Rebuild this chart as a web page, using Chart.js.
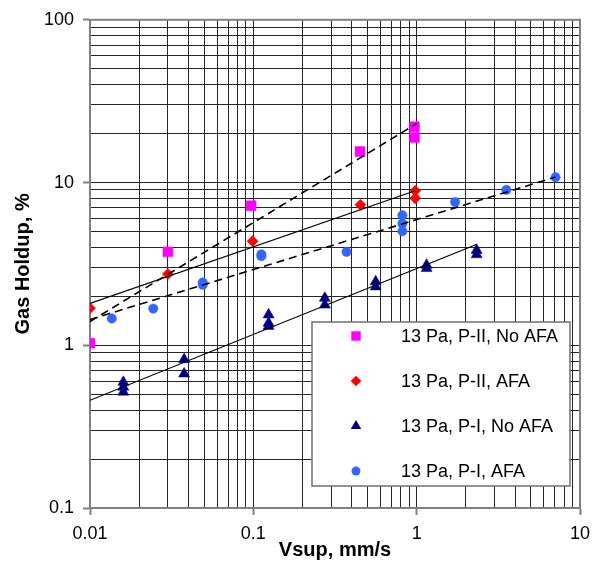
<!DOCTYPE html>
<html><head><meta charset="utf-8">
<script src="https://cdn.jsdelivr.net/npm/chart.js@4/dist/chart.umd.min.js"></script>
<style>html,body{margin:0;padding:0;background:#fff}#wrap{width:603px;height:578px}</style>
</head><body><div id="wrap"><canvas id="c" width="603" height="578"></canvas></div>
<script>
// ---- data ----
const xTickLabels = ['0.01', '0.1', '1', '10'];
const yTickLabels = ['0.1', '1', '10', '100'];
const xTitle = 'Vsup, mm/s';
const yTitle = 'Gas Holdup, %';
const seriesLabels = ['13 Pa, P-II, No AFA', '13 Pa, P-II, AFA', '13 Pa, P-I, No AFA', '13 Pa, P-I, AFA'];

const p2NoAfaX = [0.01, 0.03, 0.097, 0.45, 0.97, 0.97];
const p2NoAfaY = [1.03, 3.75, 7.2, 15.5, 22.0, 18.9];

const p2AfaX = [0.01, 0.030, 0.099, 0.453, 0.98, 0.98];
const p2AfaY = [1.69, 2.74, 4.36, 7.3, 8.9, 8.0];

const p1NoAfaX = [0.016, 0.016, 0.016, 0.0377, 0.0377, 0.124, 0.124, 0.124, 0.274, 0.274, 0.561, 0.561, 1.15, 1.15, 2.33, 2.33];
const p1NoAfaY = [0.594, 0.554, 0.516, 0.818, 0.668, 1.54, 1.37, 1.31, 1.95, 1.77, 2.46, 2.29, 3.11, 2.97, 3.84, 3.61];

const p1AfaX = [0.0136, 0.0244, 0.049, 0.049, 0.112, 0.112, 0.372, 0.818, 0.818, 0.818, 1.72, 3.54, 7.08];
const p1AfaY = [1.46, 1.68, 2.43, 2.35, 3.53, 3.62, 3.75, 6.29, 5.59, 5.02, 7.58, 9.01, 10.77];

// trend lines (end points)
const trendP2NoAfaX = [0.01, 1.0];
const trendP2NoAfaY = [1.40, 23.0];
const trendP2AfaX = [0.01, 0.98];
const trendP2AfaY = [1.81, 8.9];
const trendP1NoAfaX = [0.01, 2.32];
const trendP1NoAfaY = [0.459, 4.16];
const trendP1AfaX = [0.01, 7.08];
const trendP1AfaY = [1.44, 10.8];

// ---- helpers ----
const FONT = "'Liberation Sans', Arial, sans-serif";
const pts = (xs, ys) => xs.map((x, i) => ({x: x, y: ys[i]}));
function gridValues(labels) {
  const m = labels.map(Number), out = [];
  for (let d = 0; d < m.length - 1; d++) for (let k = 1; k < 10; k++) out.push(m[d] * k);
  out.push(m[m.length - 1]);
  return out;
}
function majorLabel(v, labels) {
  for (const l of labels) if (Math.abs(v / Number(l) - 1) < 1e-6) return l;
  return '';
}
const xGrid = gridValues(xTickLabels);
const yGrid = gridValues(yTickLabels);

const markerStyles = [
  {style: 'rect', radius: 7, color: '#FF00FF'},
  {style: 'rectRot', radius: 5.6, color: '#FF0000'},
  {style: 'triangle', radius: 6.4, color: '#000080'},
  {style: 'circle', radius: 4.7, color: '#3366FF'}
];
const markerData = [pts(p2NoAfaX, p2NoAfaY), pts(p2AfaX, p2AfaY), pts(p1NoAfaX, p1NoAfaY), pts(p1AfaX, p1AfaY)];

function trend(xs, ys, dash) {
  return {label: '', data: pts(xs, ys), showLine: true, pointRadius: 0, borderColor: '#000',
    borderWidth: dash ? 1.6 : 1.2, borderDash: dash ? [8, 5] : [], fill: false};
}
const datasets = [
  trend(trendP2NoAfaX, trendP2NoAfaY, true),
  trend(trendP2AfaX, trendP2AfaY, false),
  trend(trendP1NoAfaX, trendP1NoAfaY, false),
  trend(trendP1AfaX, trendP1AfaY, true)
];
markerStyles.forEach((m, i) => datasets.push({
  label: seriesLabels[i], data: markerData[i], showLine: false,
  pointStyle: m.style, pointRadius: m.radius, pointBackgroundColor: m.color,
  pointBorderColor: m.color, pointBorderWidth: 0.5
}));

function drawMarker(ctx, style, r, x, y, color) {
  ctx.save();
  ctx.fillStyle = color;
  ctx.beginPath();
  if (style === 'rect') { const s = r * Math.SQRT1_2; ctx.rect(x - s, y - s, 2 * s, 2 * s); }
  else if (style === 'rectRot') { ctx.moveTo(x, y - r); ctx.lineTo(x + r, y); ctx.lineTo(x, y + r); ctx.lineTo(x - r, y); }
  else if (style === 'triangle') { const a = Math.PI * 2 / 3; ctx.moveTo(x, y - r); ctx.lineTo(x + Math.sin(a) * r, y - Math.cos(a) * r); ctx.lineTo(x + Math.sin(2 * a) * r, y - Math.cos(2 * a) * r); }
  else { ctx.arc(x, y, r, 0, Math.PI * 2); }
  ctx.closePath();
  ctx.fill();
  ctx.restore();
}

const frame = {
  id: 'frame',
  beforeDatasetsDraw(chart) {
    const {ctx, chartArea: a} = chart;
    ctx.save();
    ctx.strokeStyle = '#808080';
    ctx.lineWidth = 2;
    ctx.strokeRect(a.left, a.top, a.right - a.left, a.bottom - a.top);
    ctx.restore();
  }
};

const boxLegend = {
  id: 'boxLegend',
  afterDraw(chart) {
    const {ctx, chartArea: a} = chart;
    const L = a.right - 268, T = a.bottom - 186, W = 258, H = 164;
    ctx.save();
    ctx.fillStyle = '#fff';
    ctx.fillRect(L, T, W, H);
    ctx.strokeStyle = '#707070';
    ctx.lineWidth = 1.5;
    ctx.strokeRect(L, T, W, H);
    ctx.font = '18px ' + FONT;
    ctx.textBaseline = 'middle';
    ctx.textAlign = 'left';
    markerStyles.forEach((m, i) => {
      const y = T + 14 + i * 45;
      drawMarker(ctx, m.style, m.radius * 0.95, L + 44, y, m.color);
      ctx.fillStyle = '#000';
      ctx.fillText(seriesLabels[i], L + 89, y + 1);
    });
    ctx.restore();
  }
};

const gridColor = '#262626';
function axis(opts) {
  return {
    type: 'logarithmic', min: opts.min, max: opts.max, position: opts.position,
    afterBuildTicks: s => { s.ticks = opts.grid.map(v => ({value: v})); },
    afterFit: opts.fit,
    ticks: {autoSkip: false, maxRotation: 0, minRotation: 0, padding: opts.pad, color: '#000',
      font: {family: FONT, size: 18},
      callback: v => majorLabel(v, opts.labels)},
    grid: {color: gridColor, lineWidth: 1, drawTicks: true, tickLength: 7,
      tickColor: c => (c.tick && majorLabel(c.tick.value, opts.labels) !== '') ? '#808080' : 'rgba(0,0,0,0)',
      tickWidth: 2},
    border: {display: true, color: '#808080', width: 2},
    title: {display: true, text: opts.title, color: '#000',
      font: {family: FONT, size: 20, weight: 'bold'}, padding: opts.tpad}
  };
}

new Chart(document.getElementById('c'), {
  type: 'scatter',
  data: {datasets: datasets},
  options: {
    responsive: false, animation: false, devicePixelRatio: 1,
    layout: {padding: {top: 17, right: 23, left: 0, bottom: 0}},
    plugins: {legend: {display: false}, tooltip: {enabled: false}},
    scales: {
      x: axis({min: 0.01, max: 10, position: 'bottom', grid: xGrid, labels: xTickLabels, pad: 8,
        title: xTitle, tpad: {top: 0, bottom: 16}, fit: s => { s.height = 70; }}),
      y: axis({min: 0.1, max: 100, position: 'left', grid: yGrid, labels: yTickLabels, pad: 9,
        title: yTitle, tpad: {top: 11, bottom: 0}, fit: s => { s.width = 90; }})
    }
  },
  plugins: [frame, boxLegend]
});
</script></body></html>
